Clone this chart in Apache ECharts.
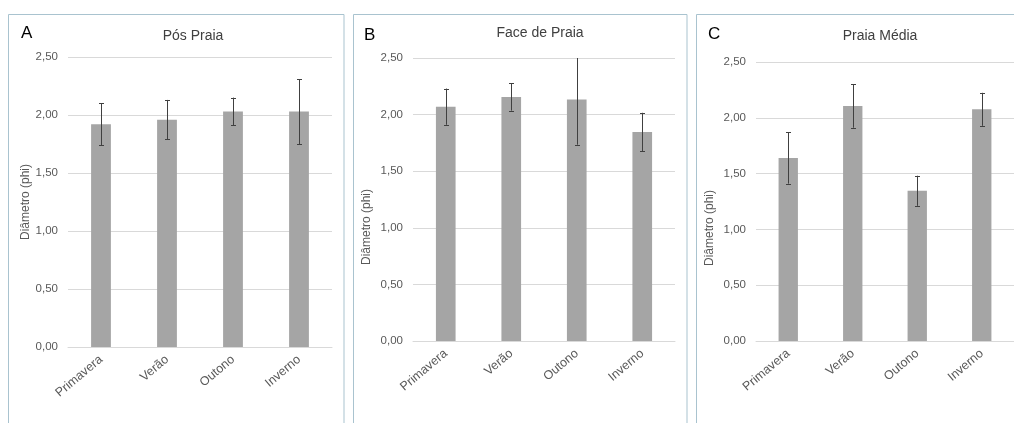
<!DOCTYPE html>
<html><head><meta charset="utf-8">
<script src="https://cdn.jsdelivr.net/npm/echarts@6/dist/echarts.min.js"></script>
<style>html,body{margin:0;padding:0;background:#fff}#c{width:1014px;height:423px}</style>
</head><body><div id="c"></div>
<script>
const categories = ['Primavera', 'Verão', 'Outono', 'Inverno'];
const posPraiaMean = [1.92, 1.96, 2.03, 2.03];
const posPraiaErr = [0.18, 0.17, 0.12, 0.28];
const facePraiaMean = [2.07, 2.155, 2.134, 1.846];
const facePraiaErr = [0.16, 0.12, 0.40, 0.17];
const praiaMediaMean = [1.64, 2.106, 1.346, 2.076];
const praiaMediaErr = [0.23, 0.195, 0.135, 0.148];
const yTicks = ['0,00', '0,50', '1,00', '1,50', '2,00', '2,50'];
const panelTitles = ['Pós Praia', 'Face de Praia', 'Praia Média'];
const panelLetters = ['A', 'B', 'C'];
const yAxisTitle = 'Diâmetro (phi)';

const means = [posPraiaMean, facePraiaMean, praiaMediaMean];
const errs = [posPraiaErr, facePraiaErr, praiaMediaErr];

const FONT = 'Liberation Sans, Arial, sans-serif';
const grids = [
  {left: 68, top: 57, width: 264, height: 290},
  {left: 413, top: 58, width: 262, height: 283},
  {left: 756, top: 62, width: 260, height: 279}
];
const titlePos = [[188, 24], [535, 21], [875, 24]];
const letterPos = [[16, 20], [359, 22], [703, 21]];
const axisTitlePos = [[26, 202], [367, 227], [710, 228]];
const borders = [[8.5, 14.5, 335.5], [353.5, 14.5, 333.5], [696.5, 14.5, 400]];

const chart = echarts.init(document.getElementById('c'), null, {renderer: 'canvas'});

const xAxes = [], yAxes = [], series = [], titles = [], graphics = [];
grids.forEach((g, k) => {
  xAxes.push({
    type: 'category', gridIndex: k, data: categories,
    axisLine: {lineStyle: {color: '#d9d9d9'}},
    axisTick: {show: false},
    axisLabel: {rotate: 40, color: '#595959', fontSize: 12.5, fontFamily: FONT, margin: 11, interval: 0}
  });
  yAxes.push({
    type: 'value', gridIndex: k, min: 0, max: 2.5, interval: 0.5,
    axisLine: {show: false}, axisTick: {show: false},
    splitLine: {lineStyle: {color: '#d9d9d9'}},
    axisLabel: {color: '#595959', fontSize: 11.5, fontFamily: FONT, margin: 10,
      formatter: v => yTicks[Math.round(v / 0.5)]}
  });
  series.push({
    type: 'bar', xAxisIndex: k, yAxisIndex: k, data: means[k],
    barWidth: '30%', itemStyle: {color: '#a5a5a5'}, silent: true
  });
  series.push({
    type: 'custom', xAxisIndex: k, yAxisIndex: k, clip: true, silent: true, z: 5,
    data: means[k].map((m, i) => [i, m - errs[k][i], m + errs[k][i]]),
    renderItem: (params, api) => {
      const lo = api.coord([api.value(0), api.value(1)]);
      const hi = api.coord([api.value(0), api.value(2)]);
      const x = Math.round(lo[0]) + 0.5;
      const h = 2.5;
      const st = {stroke: '#404040', lineWidth: 1};
      return {type: 'group', children: [
        {type: 'line', shape: {x1: x, y1: lo[1], x2: x, y2: hi[1]}, style: st},
        {type: 'line', shape: {x1: x - h, y1: Math.round(lo[1]) + 0.5, x2: x + h, y2: Math.round(lo[1]) + 0.5}, style: st},
        {type: 'line', shape: {x1: x - h, y1: Math.round(hi[1]) + 0.5, x2: x + h, y2: Math.round(hi[1]) + 0.5}, style: st}
      ]};
    }
  });
  titles.push({text: panelTitles[k], left: titlePos[k][0], top: titlePos[k][1], textAlign: 'center',
    textStyle: {fontSize: 14, fontWeight: 'normal', color: '#404040', fontFamily: FONT}});
  titles.push({text: panelLetters[k], left: letterPos[k][0], top: letterPos[k][1],
    textStyle: {fontSize: 17, fontWeight: 'normal', color: '#000', fontFamily: FONT}});
  graphics.push({type: 'rect', shape: {x: borders[k][0], y: borders[k][1], width: borders[k][2], height: 420},
    style: {fill: 'none', stroke: '#a9c3cf', lineWidth: 1}, silent: true});
  graphics.push({type: 'text', x: axisTitlePos[k][0], y: axisTitlePos[k][1], rotation: Math.PI / 2,
    style: {text: yAxisTitle, fill: '#595959', font: '12px ' + FONT, textAlign: 'center', textVerticalAlign: 'middle'}, silent: true});
});

chart.setOption({
  animation: false,
  backgroundColor: '#fff',
  title: titles,
  grid: grids,
  xAxis: xAxes,
  yAxis: yAxes,
  series: series,
  graphic: graphics
});
</script>
</body></html>
